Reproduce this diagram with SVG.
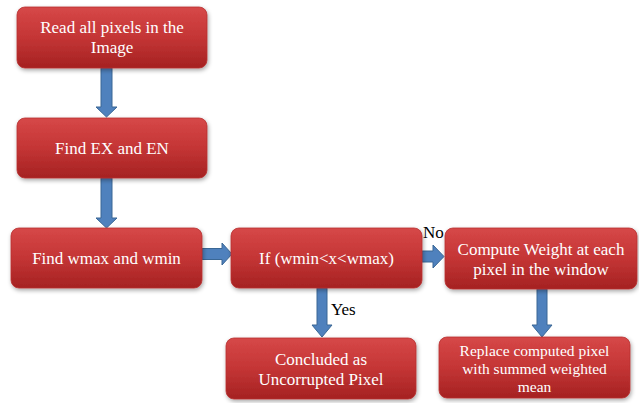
<svg xmlns="http://www.w3.org/2000/svg" width="639" height="403" viewBox="0 0 639 403">
<defs>
<linearGradient id="red" x1="0" y1="0" x2="0" y2="1">
<stop offset="0" stop-color="#d64848"/>
<stop offset="0.5" stop-color="#c43535"/>
<stop offset="1" stop-color="#a52222"/>
</linearGradient>
<filter id="sh" x="-10%" y="-10%" width="120%" height="130%">
<feDropShadow dx="1" dy="2" stdDeviation="2" flood-color="#000" flood-opacity="0.35"/>
</filter>
</defs>
<style>
.box{fill:url(#red);stroke:#b83030;stroke-width:0.8;filter:url(#sh)}
text{font-family:'Liberation Serif','DejaVu Serif',serif}
.t{font-size:17px;fill:#fff;text-anchor:middle}
.s{font-size:15.5px}
.lab{font-size:17px;fill:#000}
.arr{fill:#4f81bd;stroke:#3a6795;stroke-width:1}
</style>
<rect width="639" height="403" fill="#fff"/>
<g id="connectors">
<path class="arr" d="M101,68 H112 V107 H117 L106.5,117 L96,107 H101 Z"/>
<path class="arr" d="M101,178 H112 V218 H117 L106.5,228 L96,218 H101 Z"/>
<path class="arr" d="M202,248.5 H222 V243 L232,254 L222,265 V259.5 H202 Z"/>
<path class="arr" d="M422,251 H433 V245 L444,256.5 L433,268 V262 H422 Z"/>
<path class="arr" d="M317,288 H327 V325 H332 L322,337 L312,325 H317 Z"/>
<path class="arr" d="M537,289 H547 V325 H552 L542,337 L532,325 H537 Z"/>
<text class="lab" x="423" y="238" font-family="Liberation Serif, serif">No</text>
<text class="lab" x="331" y="315" font-family="Liberation Serif, serif">Yes</text>
</g>
<g id="n1">
<rect class="box" x="17" y="7" width="190" height="61" rx="8"/>
<text class="t" x="112" y="33">Read all pixels in the</text>
<text class="t" x="112" y="53">Image</text>
</g>
<g id="n2">
<rect class="box" x="17" y="118" width="190" height="60" rx="8"/>
<text class="t" x="112" y="154">Find EX and EN</text>
</g>
<g id="n3">
<rect class="box" x="11" y="228" width="191" height="60" rx="8"/>
<text class="t" x="106.5" y="264">Find wmax and wmin</text>
</g>
<g id="n4">
<rect class="box" x="231" y="228" width="191" height="60" rx="8"/>
<text class="t" x="326.5" y="264">If (wmin&lt;x&lt;wmax)</text>
</g>
<g id="n5">
<rect class="box" x="445" y="228" width="192" height="61" rx="8"/>
<text class="t" x="541" y="255">Compute Weight at each</text>
<text class="t" x="541" y="275">pixel in the window</text>
</g>
<g id="n6">
<rect class="box" x="226" y="338" width="190" height="61" rx="8"/>
<text class="t" x="321" y="365">Concluded as</text>
<text class="t" x="321" y="385">Uncorrupted Pixel</text>
</g>
<g id="n7">
<rect class="box" x="439" y="337" width="191" height="61" rx="8"/>
<text class="t s" x="534.5" y="356">Replace computed pixel</text>
<text class="t s" x="534.5" y="374">with summed weighted</text>
<text class="t s" x="534.5" y="392">mean</text>
</g>
</svg>
